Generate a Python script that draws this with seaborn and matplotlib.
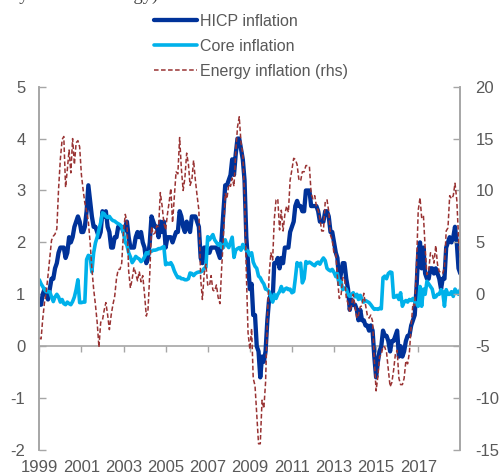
import matplotlib
matplotlib.use("Agg")
import matplotlib.pyplot as plt
import matplotlib.dates as mdates
import numpy as np
import pandas as pd
import seaborn as sns

# Monthly data, Jan 1999 - Jan 2019 (annual % changes)
hicp = [
    0.8, 0.8, 1.0, 1.1, 1.0, 0.9, 1.1, 1.3, 1.3, 1.5, 1.6, 1.8,  # 1999
    1.9, 1.9, 1.9, 1.7, 1.8, 2.1, 2.0, 2.1, 2.3, 2.4, 2.5, 2.4,  # 2000
    2.2, 2.2, 2.3, 2.6, 3.1, 2.8, 2.5, 2.3, 2.3, 2.2, 2.1, 2.2,  # 2001
    2.6, 2.5, 2.6, 2.3, 2.2, 1.9, 1.9, 2.1, 2.1, 2.3, 2.3, 2.3,  # 2002
    2.2, 2.3, 2.4, 2.1, 1.9, 1.9, 1.9, 2.1, 2.2, 2.1, 2.2, 2.0,  # 2003
    1.9, 1.6, 1.7, 2.0, 2.5, 2.4, 2.3, 2.3, 2.1, 2.4, 2.2, 2.4,  # 2004
    1.9, 2.1, 2.1, 2.1, 2.0, 2.1, 2.2, 2.2, 2.6, 2.5, 2.3, 2.2,  # 2005
    2.4, 2.3, 2.2, 2.5, 2.5, 2.5, 2.4, 2.3, 1.7, 1.6, 1.9, 1.9,  # 2006
    1.8, 1.8, 1.9, 1.9, 1.9, 1.9, 1.8, 1.7, 2.1, 2.6, 3.1, 3.1,  # 2007
    3.2, 3.3, 3.6, 3.3, 3.7, 4.0, 4.0, 3.8, 3.6, 3.2, 2.1, 1.6,  # 2008
    1.1, 1.2, 0.6, 0.6, 0.0, -0.1, -0.6, -0.2, -0.3, -0.1, 0.5, 0.9,  # 2009
    1.0, 0.9, 1.6, 1.6, 1.7, 1.5, 1.7, 1.6, 1.9, 1.9, 1.9, 2.2,  # 2010
    2.3, 2.4, 2.7, 2.8, 2.7, 2.7, 2.6, 2.6, 3.0, 3.0, 3.0, 2.7,  # 2011
    2.7, 2.7, 2.7, 2.6, 2.4, 2.4, 2.4, 2.6, 2.6, 2.5, 2.2, 2.2,  # 2012
    2.0, 1.8, 1.7, 1.2, 1.4, 1.6, 1.6, 1.3, 1.1, 0.7, 0.9, 0.8,  # 2013
    0.8, 0.7, 0.5, 0.7, 0.5, 0.5, 0.4, 0.4, 0.3, 0.4, 0.3, -0.2,  # 2014
    -0.6, -0.3, -0.1, 0.0, 0.3, 0.2, 0.2, 0.1, -0.1, 0.1, 0.1, 0.2,  # 2015
    0.3, -0.2, 0.0, -0.2, -0.1, 0.1, 0.2, 0.2, 0.4, 0.5, 0.6, 1.1,  # 2016
    1.8, 2.0, 1.5, 1.9, 1.4, 1.3, 1.3, 1.5, 1.5, 1.4, 1.5, 1.4,  # 2017
    1.3, 1.1, 1.3, 1.3, 1.9, 2.0, 2.1, 2.0, 2.1, 2.3, 2.0, 1.5,  # 2018
    1.4,  # 2019
]

core = [
    1.28, 1.2, 1.15, 1.09, 1.05, 1.05, 1.05, 0.95, 0.86, 0.95, 1.0, 0.95,  # 1999
    0.85, 0.9, 0.82, 0.8, 0.85, 0.82, 0.8, 0.86, 0.95, 1.09, 1.28, 0.84,  # 2000
    0.84, 0.85, 0.85, 1.67, 1.75, 1.73, 1.43, 1.8, 1.99, 2.1, 2.25, 2.38,  # 2001
    2.57, 2.55, 2.5, 2.48, 2.5, 2.45, 2.42, 2.41, 2.38, 2.36, 2.34, 2.3,  # 2002
    2.18, 2.0, 1.95, 1.8, 1.72, 1.61, 1.66, 1.73, 1.7, 1.68, 1.63, 1.66,  # 2003
    1.72, 1.8, 1.78, 1.82, 1.83, 1.85, 1.85, 1.86, 1.88, 1.88, 1.9, 1.92,  # 2004
    1.57, 1.6, 1.58, 1.61, 1.55, 1.45, 1.38, 1.32, 1.33, 1.3, 1.3, 1.28,  # 2005
    1.28, 1.3, 1.41, 1.4, 1.36, 1.4, 1.42, 1.43, 1.43, 1.45, 1.5, 1.52,  # 2006
    2.11, 2.05, 2.1, 2.15, 2.05, 2.0, 1.95, 1.98, 1.9, 1.9, 2.05, 1.95,  # 2007
    1.9, 2.0, 2.1, 1.71, 1.85, 1.88, 1.9, 1.85, 1.96, 1.9, 1.85, 1.83,  # 2008
    1.75, 1.8, 1.62, 1.54, 1.5, 1.35, 1.32, 1.25, 1.2, 1.1, 1.09, 1.05,  # 2009
    0.96, 0.85, 1.0, 0.92, 1.0, 1.05, 1.15, 1.05, 1.1, 1.12, 1.09, 1.1,  # 2010
    1.03, 1.05, 1.3, 1.61, 1.55, 1.6, 1.22, 1.3, 1.63, 1.6, 1.62, 1.6,  # 2011
    1.57, 1.55, 1.6, 1.62, 1.58, 1.65, 1.7, 1.65, 1.5, 1.47, 1.45, 1.48,  # 2012
    1.42, 1.34, 1.4, 1.2, 1.25, 1.09, 1.12, 1.1, 1.0, 0.96, 1.0, 1.03,  # 2013
    0.95, 1.0, 0.9, 0.98, 0.9, 0.85, 0.88, 0.86, 0.84, 0.8, 0.75, 0.71,  # 2014
    0.72, 0.71, 0.73, 0.72, 1.32, 1.35, 1.3, 1.4, 1.43, 1.42, 0.94, 0.95,  # 2015
    0.98, 0.9, 1.03, 0.77, 0.85, 0.88, 0.85, 0.9, 0.88, 0.92, 0.85, 0.82,  # 2016
    0.77, 1.15, 0.77, 1.1, 1.0, 1.25, 1.2, 1.15, 1.1, 0.94, 0.95, 1.0,  # 2017
    1.0, 1.09, 1.05, 0.77, 1.09, 1.0, 1.0, 1.05, 0.96, 1.1, 1.05, 1.0,  # 2018
    1.09,  # 2019
]

energy = [
    -4.2, -4.3, -2.4, -0.8, 0.2, 1.8, 3.5, 5.2, 5.6, 5.8, 6.3, 10.1,  # 1999
    13.0, 14.9, 15.2, 10.3, 12.0, 13.9, 11.7, 15.0, 12.5, 14.6, 14.8, 14.2,  # 2000
    11.5, 10.0, 8.8, 8.0, 7.0, 5.0, 2.5, 0.5, -1.0, -2.7, -5.1, -2.7,  # 2001
    -2.5, -1.5, -0.8, -2.0, -3.4, -2.0, -1.0, -0.2, 1.5, 2.4, 2.4, 3.0,  # 2002
    6.0, 7.7, 7.0, 2.2, 0.6, 1.5, 2.6, 2.0, 1.3, 2.2, 1.2, 1.8,  # 2003
    0.0, -2.1, -1.5, 2.0, 6.5, 5.8, 5.9, 6.6, 6.5, 9.8, 8.5, 6.9,  # 2004
    6.2, 7.7, 8.8, 10.2, 6.9, 9.4, 11.8, 11.6, 15.1, 12.1, 10.0, 11.2,  # 2005
    13.6, 12.5, 10.5, 11.0, 12.9, 11.0, 9.5, 8.1, 1.5, -0.5, 2.0, 2.9,  # 2006
    0.9, 0.8, 1.8, 0.4, 0.3, 0.9, -0.3, -0.9, 2.6, 5.5, 9.7, 9.2,  # 2007
    10.6, 10.4, 11.2, 10.4, 13.7, 16.1, 17.1, 14.6, 13.5, 9.6, 2.1, -3.7,  # 2008
    -5.3, -3.3, -8.1, -8.8, -11.6, -14.4, -14.4, -10.2, -11.0, -8.5, -2.4, 1.8,  # 2009
    4.0, 3.3, 7.2, 9.1, 9.2, 6.2, 8.1, 6.1, 7.7, 8.5, 7.9, 11.0,  # 2010
    12.0, 13.1, 13.0, 12.5, 11.1, 10.9, 11.8, 11.8, 12.4, 12.4, 12.3, 9.7,  # 2011
    9.2, 9.5, 8.5, 8.1, 7.3, 6.1, 6.1, 8.9, 9.1, 8.0, 5.7, 5.2,  # 2012
    3.9, 3.9, 1.7, -0.4, -0.2, 1.6, 1.6, -0.3, -0.9, -1.7, -1.1, 0.0,  # 2013
    -1.2, -2.3, -2.0, -1.2, -1.1, 0.1, -1.0, -2.0, -2.3, -2.0, -2.6, -6.3,  # 2014
    -9.3, -7.9, -6.0, -5.8, -5.0, -5.1, -5.6, -7.2, -8.9, -8.5, -7.3, -5.8,  # 2015
    -5.4, -8.1, -8.7, -8.7, -8.1, -6.4, -6.7, -5.6, -3.0, -0.9, -1.1, 2.6,  # 2016
    8.1, 9.3, 7.4, 7.6, 4.5, 1.9, 2.2, 4.0, 3.9, 3.0, 4.7, 2.9,  # 2017
    2.2, 2.1, 2.0, 2.6, 6.1, 6.4, 9.5, 9.2, 9.5, 10.7, 9.1, 5.5,  # 2018
    3.0,  # 2019
]

dates = pd.date_range("1999-01-01", periods=len(hicp), freq="MS")
tick_years = list(range(1999, 2019, 2))

grey = "#595959"
spine_grey = "#a6a6a6"

sns.set_style("white")
plt.rcParams["font.family"] = ["Liberation Sans", "DejaVu Sans"]
plt.rcParams["axes.unicode_minus"] = False

fig = plt.figure(figsize=(5.0, 4.76), dpi=100)
ax = fig.add_axes([0.0786, 0.0546, 0.842, 0.7633])
ax2 = ax.twinx()

sns.lineplot(x=dates, y=hicp, ax=ax, color="#003299", linewidth=3.1,
             label="HICP inflation", legend=False)
sns.lineplot(x=dates, y=core, ax=ax, color="#00b1ea", linewidth=2.6,
             label="Core inflation", legend=False)
sns.lineplot(x=dates, y=energy, ax=ax2, color="#993333", linewidth=1.1,
             linestyle=(0, (3, 1.6)), label="Energy inflation (rhs)", legend=False)

ax.set_xlim(pd.Timestamp("1999-01-01"), pd.Timestamp("2019-01-01"))
ax.set_ylim(-2, 5)
ax2.set_ylim(-15, 20)
ax.set_yticks(range(-2, 6))
ax2.set_yticks(range(-15, 21, 5))

ticks = [pd.Timestamp(f"{y}-01-01") for y in tick_years]
ax.set_xticks(ticks)
ax.xaxis.set_major_formatter(mdates.DateFormatter("%Y"))
ax.tick_params(axis="x", length=0, pad=7, labelsize=12, labelcolor=grey)
ax.tick_params(axis="y", direction="in", length=5, width=1, color=spine_grey,
               pad=10, labelsize=12, labelcolor=grey)
ax2.tick_params(axis="y", direction="in", length=5, width=1, color=spine_grey,
                pad=11, labelsize=12, labelcolor=grey)
ax.set_xlabel("")
ax.set_ylabel("")
ax2.set_ylabel("")

for a in (ax, ax2):
    for side in ("top", "bottom"):
        a.spines[side].set_visible(False)
    for side in ("left", "right"):
        a.spines[side].set_color(spine_grey)
        a.spines[side].set_linewidth(1.2)

# zero line carrying the year ticks
zero_axis = ax.secondary_xaxis(2 / 7)
zero_axis.set_xticks(ticks)
zero_axis.tick_params(direction="out", length=4, width=1, color=spine_grey,
                      labelbottom=False)
zero_axis.spines["bottom"].set_color(spine_grey)
zero_axis.spines["bottom"].set_linewidth(1.2)

h1, l1 = ax.get_legend_handles_labels()
h2, l2 = ax2.get_legend_handles_labels()
fig.legend(h1 + h2, l1 + l2, loc="upper left", bbox_to_anchor=(0.288, 0.991),
           frameon=False, fontsize=11.5, labelcolor=grey, handlelength=2.7,
           handletextpad=0.2, labelspacing=0.62, borderaxespad=0.2)

# cropped subtitle line at the very top
fig.text(0.02, 1.0, "by item and energy)", family=["Liberation Serif", "DejaVu Serif"],
         fontsize=13.3, color="#404040", va="baseline")

fig.savefig("out.png", dpi=100)
